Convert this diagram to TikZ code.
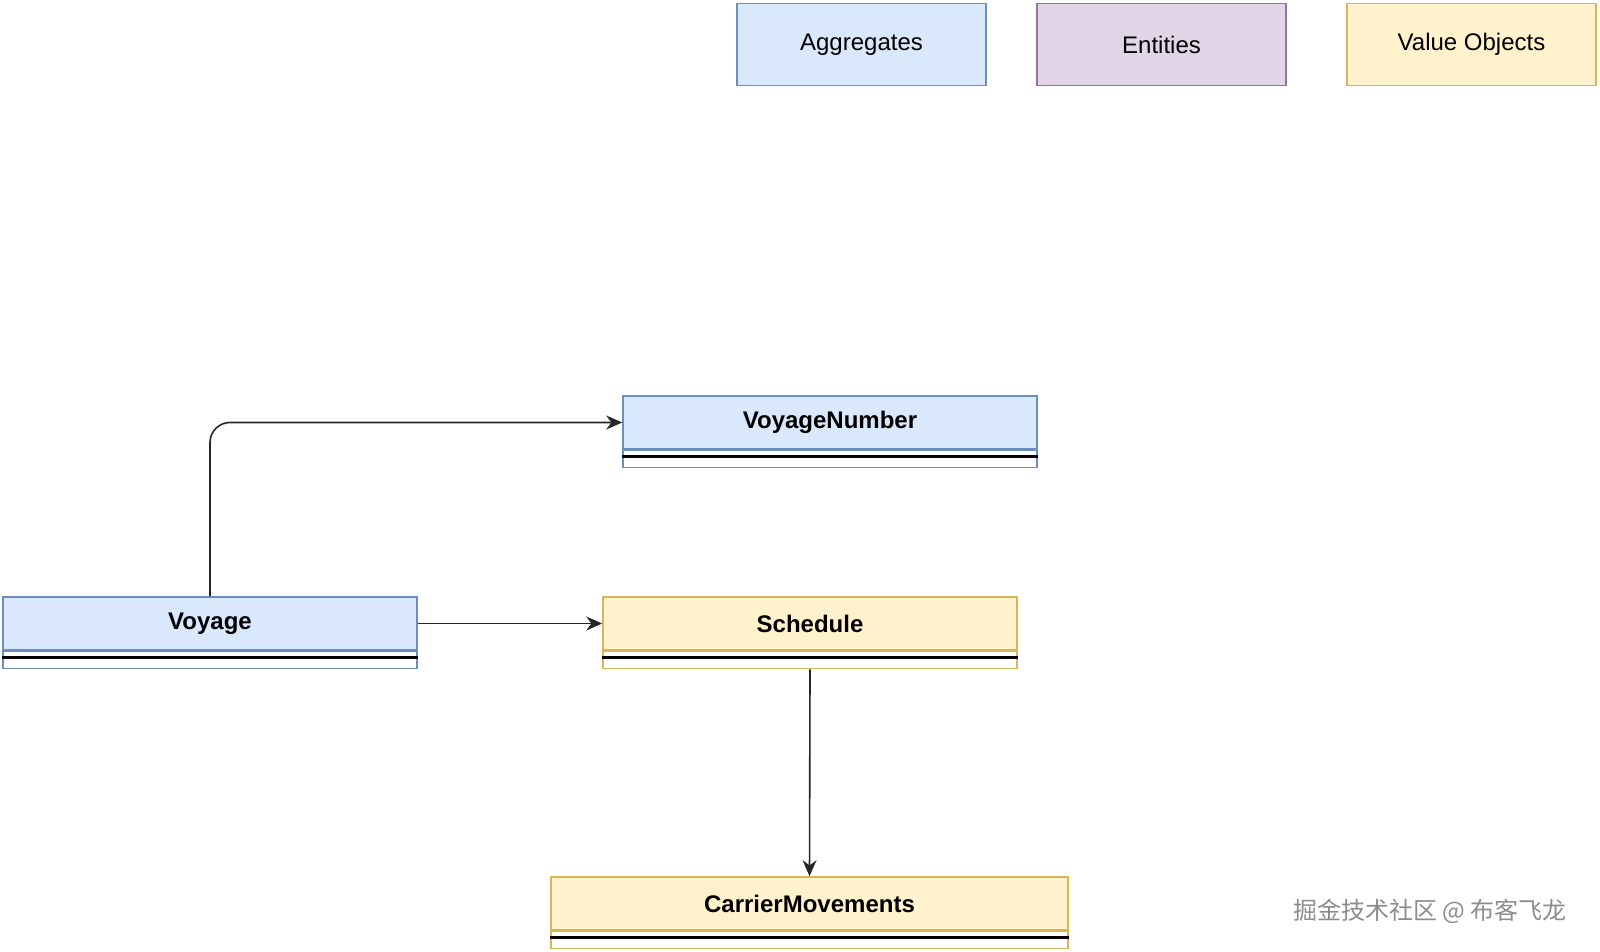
\documentclass[tikz,border=0pt]{standalone}
\usepackage{fontspec}
\setmainfont{Liberation Sans}
\newfontfamily\cjk{Noto Sans CJK SC}
\usetikzlibrary{arrows.meta,positioning}
\definecolor{aggfill}{HTML}{DAE8FC}
\definecolor{aggline}{HTML}{6C8EBF}
\definecolor{entfill}{HTML}{E1D5E7}
\definecolor{entline}{HTML}{9673A6}
\definecolor{valfill}{HTML}{FFF2CC}
\definecolor{valline}{HTML}{D6B656}
\tikzset{
  legend/.style={draw,line width=0.8pt,minimum width=124.5pt,minimum height=41pt,font=\fontsize{12}{14}\selectfont},
  head/.style={draw,line width=0.8pt,minimum height=26.5pt,inner sep=0pt,font=\bfseries\fontsize{12}{14}\selectfont},
  body/.style={draw,line width=0.8pt,minimum height=8.5pt,inner sep=0pt,below=0pt of #1},
  link/.style={-{Stealth[length=8pt,width=7pt]},line width=0.8pt,black!85}
}
\begin{document}
\begin{tikzpicture}[x=0.5pt,y=-0.5pt]
\useasboundingbox (0,0) rectangle (1600,952);
% legend
\node[legend,fill=aggfill,draw=aggline] (agg) at (861.5,44.5) {Aggregates};
\node[legend,fill=entfill,draw=entline] (ent) at (1161.5,44.5) {Entities};
\node[legend,fill=valfill,draw=valline] (val) at (1471.5,44.5) {Value Objects};

% classes
\node[head,fill=aggfill,draw=aggline,minimum width=207pt] (vn) at (830,422.5) {VoyageNumber};
\node[body=vn,draw=aggline,minimum width=207pt] (vnb) {};
\node[head,fill=aggfill,draw=aggline,minimum width=207pt] (voy) at (210,623.5) {Voyage};
\node[body=voy,draw=aggline,minimum width=207pt] (voyb) {};
\node[head,fill=valfill,draw=valline,minimum width=207pt] (sch) at (810,623.5) {Schedule};
\node[body=sch,draw=valline,minimum width=207pt] (schb) {};
\node[head,fill=valfill,draw=valline,minimum width=258.5pt] (cm) at (809.5,903.5) {CarrierMovements};
\node[body=cm,draw=valline,minimum width=258.5pt] (cmb) {};
\foreach \b in {vnb,voyb,schb,cmb}
  \draw[line width=1.3pt] ([yshift=1.2pt]\b.west) -- ([yshift=1.2pt]\b.east);

% links
\draw[link,rounded corners=10pt] (voy.north) |- (vn.west);
\draw[link] (voy.east) -- (sch.west);
\draw[link] (schb.south) -- (cm.north);

\node[font=\cjk\fontsize{12}{14}\selectfont,text=black!45] (mark) at (1430,911) {掘金技术社区 @ 布客飞龙};
\end{tikzpicture}
\end{document}
